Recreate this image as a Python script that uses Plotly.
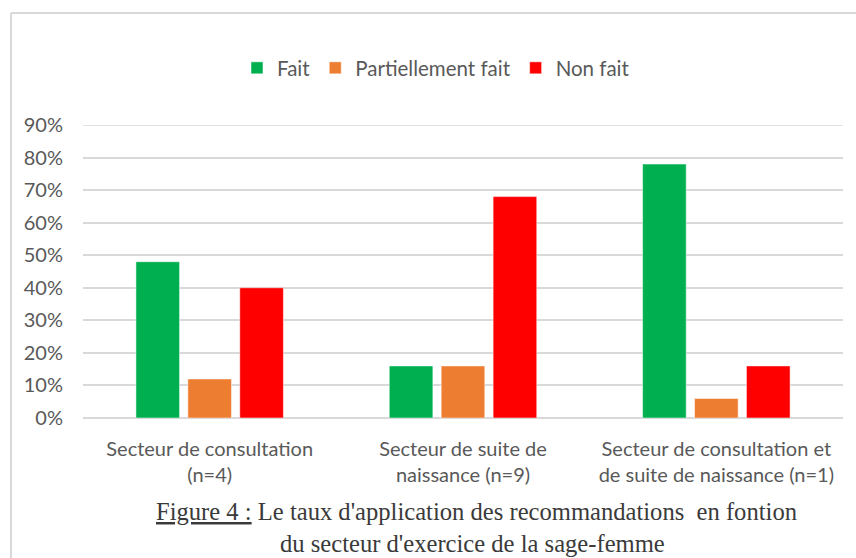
import plotly.graph_objects as go

# Sectors of practice (x categories) and application rates per status
categories = [
    "Secteur de consultation<br>(n=4)",
    "Secteur de suite de<br>naissance (n=9)",
    "Secteur de consultation et<br>de suite de naissance (n=1)",
]
fait = [0.48, 0.16, 0.78]
partiellement_fait = [0.12, 0.16, 0.06]
non_fait = [0.40, 0.68, 0.16]

series = [
    ("Fait", fait, "#00b050"),
    ("Partiellement fait", partiellement_fait, "#ed7d31"),
    ("Non fait", non_fait, "#ff0000"),
]

tick_vals = [i / 10 for i in range(10)]
tick_text = [f"{i * 10}%" for i in range(10)]

label_font = dict(family="Lato, Open Sans, sans-serif", size=20, color="#595959")
legend_font = dict(family="Lato, Open Sans, sans-serif", size=20.5, color="#595959")
caption_font = dict(family="Liberation Serif, Times New Roman, serif", size=24.6, color="#3a3a3a")

fig = go.Figure()
for name, values, color in series:
    fig.add_trace(go.Bar(
        name=name,
        x=categories,
        y=values,
        marker=dict(color=color, line=dict(color="rgba(255,255,255,0.5)", width=1)),
    ))

W, H = 856, 558
L, R, T, B = 83, 13, 125, 140
pw, ph = W - L - R, H - T - B


def px(x):
    return (x - L) / pw


def py(y):
    return (H - B - y) / ph


fig.update_layout(
    width=W,
    height=H,
    margin=dict(l=L, r=R, t=T, b=B),
    paper_bgcolor="white",
    plot_bgcolor="white",
    barmode="group",
    bargap=0.385,
    bargroupgap=0.16,
    font=label_font,
    legend=dict(
        orientation="h",
        x=px(436),
        xanchor="center",
        y=py(68),
        yanchor="middle",
        font=legend_font,
        itemclick=False,
        traceorder="normal",
    ),
    xaxis=dict(
        showgrid=False,
        showline=False,
        zeroline=False,
        tickfont=label_font,
        ticklabelstandoff=17,
    ),
    yaxis=dict(
        range=[0, 0.9],
        tickvals=tick_vals,
        ticktext=tick_text,
        showgrid=True,
        gridcolor="#d9d9d9",
        gridwidth=1.5,
        zeroline=True,
        zerolinecolor="#d9d9d9",
        zerolinewidth=1.5,
        showline=False,
        tickfont=label_font,
        ticklabelstandoff=19,
    ),
    showlegend=True,
)

# Top gridline at 90% (end of the range)
fig.add_shape(type="line", xref="paper", yref="y", x0=0, x1=1, y0=0.9, y1=0.9,
              line=dict(color="#d9d9d9", width=1.5), layer="below")

# Chart frame: top and left edges
fig.add_shape(type="line", xref="paper", yref="paper", x0=px(11), x1=px(856), y0=py(13), y1=py(13),
              line=dict(color="#d9d9d9", width=2))
fig.add_shape(type="line", xref="paper", yref="paper", x0=px(11), x1=px(11), y0=py(13), y1=py(558),
              line=dict(color="#d9d9d9", width=2))

# Figure caption
fig.add_annotation(
    xref="paper", yref="paper", x=px(477), y=py(512), xanchor="center", yanchor="middle",
    text="<u>Figure 4 :</u> Le taux d'application des recommandations  en fontion",
    showarrow=False, font=caption_font,
)
fig.add_annotation(
    xref="paper", yref="paper", x=px(472), y=py(543), xanchor="center", yanchor="middle",
    text="du secteur d'exercice de la sage-femme",
    showarrow=False, font=caption_font,
)

fig.write_html("out.html")
